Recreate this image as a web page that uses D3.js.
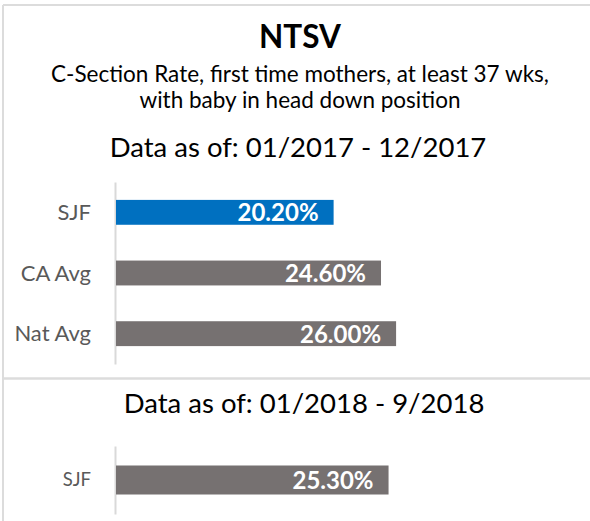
<!DOCTYPE html>
<html>
<head>
<meta charset="utf-8">
<script src="https://cdn.jsdelivr.net/npm/d3@7"></script>
<style>
  html, body { margin: 0; padding: 0; background: #fff; }
  svg { display: block; font-family: Lato, "Open Sans", sans-serif; }
</style>
</head>
<body>
<svg id="chart" width="590" height="521"></svg>
<script>
const title = "NTSV";
const subtitleLines = ["C-Section Rate, first time mothers, at least 37 wks,", "with baby in head down position"];
const period1 = "Data as of: 01/2017 - 12/2017";
const categories1 = ["SJF", "CA Avg", "Nat Avg"];
const values1 = [20.2, 24.6, 26.0];
const colors1 = ["#0070C0", "#767171", "#767171"];
const period2 = "Data as of: 01/2018 - 9/2018";
const categories2 = ["SJF"];
const values2 = [25.3];
const colors2 = ["#767171"];

const svg = d3.select("#chart");
const W = 590, H = 521;

// panel frame
const frame = svg.append("g").attr("stroke", "#dcdcdc").attr("stroke-width", 2).attr("fill", "none");
frame.append("line").attr("x1", 3).attr("x2", W).attr("y1", 5).attr("y2", 5);
frame.append("line").attr("x1", 3).attr("x2", 3).attr("y1", 5).attr("y2", H);
frame.append("line").attr("x1", 3).attr("x2", W).attr("y1", 378.5).attr("y2", 378.5).attr("stroke-width", 2.5);

const cx = 300;
svg.append("text").attr("x", cx).attr("y", 47.5).attr("text-anchor", "middle")
  .attr("font-size", 31.5).attr("font-weight", 700).attr("fill", "#000").text(title);
svg.selectAll("text.sub").data(subtitleLines).join("text").attr("class", "sub")
  .attr("x", cx).attr("y", (d, i) => 81.5 + i * 26.5).attr("text-anchor", "middle")
  .attr("font-size", 22.5).attr("fill", "#000").text(d => d);

svg.append("text").attr("x", cx - 2).attr("y", 156.5).attr("text-anchor", "middle")
  .attr("font-size", 27.5).attr("fill", "#000").text(period1);
svg.append("text").attr("x", cx + 4).attr("y", 413.3).attr("text-anchor", "middle")
  .attr("font-size", 27.5).attr("fill", "#000").text(period2);

const x = d3.scaleLinear().domain([0, 44]).range([116, 590]);

function drawBars(cats, vals, cols, yRange, pInner, pOuter, catFont) {
  const y = d3.scaleBand().domain(cats).range(yRange).paddingInner(pInner).paddingOuter(pOuter);
  const g = svg.append("g");
  const axis = d3.axisLeft(y).tickSizeInner(0).tickSizeOuter(0).tickPadding(24);
  const ag = g.append("g").attr("transform", "translate(115,0)").call(axis);
  ag.select(".domain").attr("stroke", "#d9d9d9").attr("stroke-width", 2);
  ag.selectAll(".tick text").attr("font-family", "Lato, sans-serif").attr("font-size", catFont)
    .attr("fill", "#595959").attr("dy", "0.35em");
  const data = cats.map((c, i) => ({ c, v: vals[i], col: cols[i] }));
  g.selectAll("rect").data(data).join("rect")
    .attr("x", x(0)).attr("y", d => y(d.c))
    .attr("width", d => x(d.v) - x(0)).attr("height", y.bandwidth())
    .attr("fill", d => d.col);
  g.selectAll("text.val").data(data).join("text").attr("class", "val")
    .attr("x", d => x(d.v) - 15).attr("y", d => y(d.c) + y.bandwidth() / 2 + 9)
    .attr("text-anchor", "end").attr("font-size", 24).attr("font-weight", 700)
    .attr("fill", "#fff").text(d => d.v.toFixed(2) + "%");
}

drawBars(categories1, values1, colors1, [182, 364], 0.59, 0.295, 22);
drawBars(categories2, values2, colors2, [446, 514], 0.573, 0.287, 18.5);
</script>
</body>
</html>
